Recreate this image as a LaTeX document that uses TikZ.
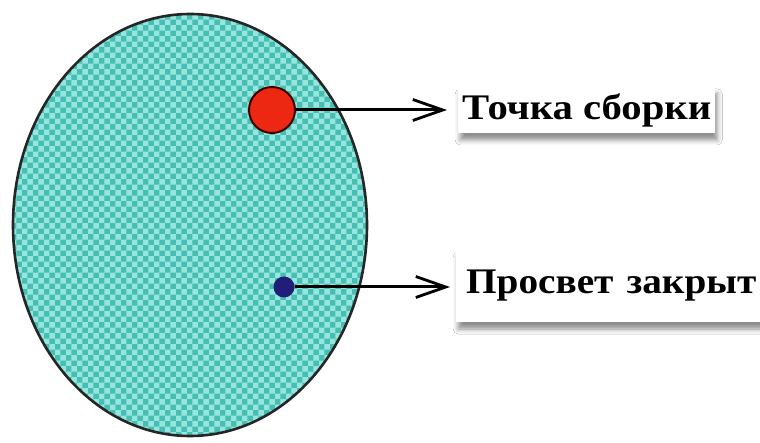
\documentclass[tikz,border=0pt]{standalone}
\usepackage{fontspec}
\setmainfont{Liberation Serif}
\usetikzlibrary{arrows.meta,patterns,shadows.blur}
\definecolor{tealbase}{RGB}{70,190,180}
\definecolor{teallight}{RGB}{150,230,222}
\definecolor{dotred}{RGB}{236,40,18}
\definecolor{dotnavy}{RGB}{32,30,120}
\newcommand{\widetext}[2]{\scalebox{#1}[1]{#2}}
\tikzset{
  lbl/.style={fill=white, anchor=west, inner xsep=4pt, inner ysep=0pt,
    font=\fontsize{36}{36}\selectfont\bfseries,
    blur shadow={shadow xshift=2pt, shadow yshift=-7pt, shadow blur radius=5pt, shadow opacity=45}},
  conn/.style={line width=3pt, -{Straight Barb[length=30pt,width=21pt,line width=2.8pt]}},
}
\begin{document}
\begin{tikzpicture}[x=1pt,y=-1pt]
\useasboundingbox (0,0) rectangle (760,443);
\fill[white] (0,0) rectangle (760,443);
% body
\fill[tealbase] (190,225) ellipse [x radius=177, y radius=211];
\fill[pattern=checkerboard, pattern color=teallight] (190,225) ellipse [x radius=177, y radius=211];
\draw[line width=2.6pt, black!85] (190,225) ellipse [x radius=177, y radius=211];
\node[circle, fill=dotred, draw=black!75!red, line width=2pt, minimum size=46pt, inner sep=0pt] (red) at (272,110) {};
\node[circle, fill=dotnavy, minimum size=21pt, inner sep=0pt] (navy) at (284,287) {};
% labels
\node[lbl, minimum height=46pt] (t1) at (458,110) {\widetext{1.13}{Точка сборки}};
\node[lbl, minimum height=72pt, minimum width=320pt, align=left, text width=300pt] (t2) at (456,286) {\widetext{1.09}{Просвет закрыт}};
\coordinate (e1) at (447,110);
\coordinate (e2) at (450,287);
\draw[conn] (red.east) -- (e1);
\draw[conn] (navy.east) -- (e2);
\end{tikzpicture}
\end{document}
